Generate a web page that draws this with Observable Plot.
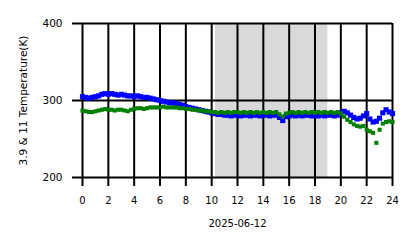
<!DOCTYPE html>
<html>
<head>
<meta charset="utf-8">
<script src="https://cdn.jsdelivr.net/npm/d3@7"></script>
<script src="https://cdn.jsdelivr.net/npm/@observablehq/plot@0.6"></script>
<style>
  html, body { margin: 0; padding: 0; background: #fff; }
  #chart svg { display: block; }
</style>
</head>
<body>
<div id="chart"></div>
<script>
// Hours of day (step 0.25 h)
const hours = d3.range(0, 24.001, 0.25);
// 3.9 µm temperature (K) – blue
const blueTemp = [
  305,304,303,304,305,306,308,309,308,309,308,307,
  308,307,306,306,305,306,305,304,304,303,302,301,
  300,299,298,297,297,296,295,294,292,291,290,289,
  288,287,286,285,284,283,282,282,281,281,280,281,
  281,280,281,281,280,281,281,280,281,281,280,281,
  281,278,274,279,280,281,280,281,280,281,281,280,
  281,280,281,280,281,281,280,281,284,286,284,281,
  278,276,277,280,283,276,272,273,277,284,288,285,
  283
];
// 11 µm temperature (K) – green
const greenTemp = [
  287,286,285,285,286,287,288,289,288,288,287,288,
  288,287,286,288,289,290,290,289,290,291,291,291,
  291,292,291,291,291,291,290,290,289,289,288,288,
  287,287,286,286,285,285,284,285,284,285,284,285,
  285,284,285,284,285,284,285,284,285,284,285,284,
  285,282,279,283,284,285,284,285,284,285,284,285,
  284,285,284,285,284,285,284,285,283,279,275,272,
  269,267,266,267,262,260,258,245,262,270,272,273,
  272
];
const xTicks = [0,2,4,6,8,10,12,14,16,18,20,22,24];
const yTicks = [200,300,400];
const shade = [{start: 10.3, end: 19.0}];

const blueData = hours.map((h, i) => ({h, t: blueTemp[i]}));
const greenData = hours.map((h, i) => ({h, t: greenTemp[i]}));

const chart = Plot.plot({
  width: 418,
  height: 248,
  marginLeft: 82,
  marginRight: 26,
  marginTop: 23,
  marginBottom: 71,
  style: {fontFamily: "DejaVu Sans", fontSize: "10px", color: "#000", background: "#fff"},
  x: {domain: [0, 24]},
  y: {domain: [200, 400]},
  marks: [
    Plot.rectX(shade, {x1: "start", x2: "end", y1: 200, y2: 400, fill: "#d9d9d9"}),
    Plot.ruleX(xTicks, {stroke: "#000", strokeWidth: 2}),
    Plot.ruleY(yTicks, {stroke: "#000", strokeWidth: 2, x1: 0, x2: 24}),
    Plot.dot(blueData, {x: "h", y: "t", symbol: "square", r: 2.9, fill: "#0000ff", stroke: "none"}),
    Plot.dot(greenData, {x: "h", y: "t", symbol: "square", r: 2.3, fill: "#008000", stroke: "none"}),
    Plot.axisX({ticks: xTicks, tickSize: 9, strokeWidth: 2, tickPadding: 10, fontSize: 10,
      label: "2025-06-12", labelAnchor: "center", labelArrow: "none", labelOffset: 49}),
    Plot.axisY({ticks: yTicks, tickSize: 10, strokeWidth: 2, tickPadding: 10, fontSize: 10,
      label: "3.9 & 11 Temperature(K)", labelAnchor: "center", labelArrow: "none", labelOffset: 63, fontSize: 10.5})
  ]
});
document.getElementById("chart").appendChild(chart);
</script>
</body>
</html>
